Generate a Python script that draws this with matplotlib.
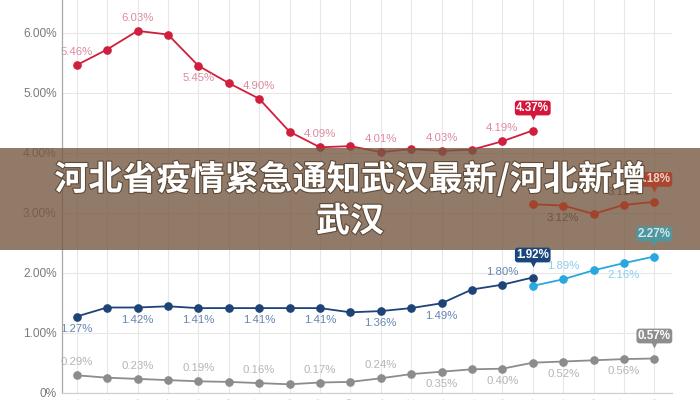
import matplotlib
matplotlib.use("Agg")
import matplotlib.pyplot as plt
from matplotlib.patches import Rectangle
from matplotlib.transforms import offset_copy
import matplotlib.patheffects as pe

# ---------------- data ----------------
x_labels = ["2019-01", "2019-02", "2019-03", "2019-04", "2019-05", "2019-06", "2019-07",
            "2019-08", "2019-09", "2019-10", "2019-11", "2019-12", "2020-01", "2020-02",
            "2020-03", "2020-04", "2020-05", "2020-06", "2020-07", "2020-08"]
red_idx = list(range(0, 16))
red_vals = [5.46, 5.72, 6.03, 5.97, 5.45, 5.16, 4.90, 4.35, 4.09, 4.11, 4.01, 4.06, 4.03, 4.05, 4.19, 4.37]
brown_idx = list(range(15, 20))
brown_vals = [3.14, 3.12, 2.98, 3.13, 3.18]
blue_idx = list(range(0, 16))
blue_vals = [1.27, 1.42, 1.42, 1.44, 1.41, 1.41, 1.41, 1.41, 1.41, 1.34, 1.36, 1.41, 1.49, 1.72, 1.80, 1.92]
lblue_idx = list(range(15, 20))
lblue_vals = [1.78, 1.89, 2.04, 2.16, 2.27]
gray_idx = list(range(0, 20))
gray_vals = [0.29, 0.25, 0.23, 0.21, 0.19, 0.18, 0.16, 0.14, 0.17, 0.18,
             0.24, 0.31, 0.35, 0.39, 0.40, 0.50, 0.52, 0.54, 0.56, 0.57]
y_ticks = [0, 1, 2, 3, 4, 5, 6]
y_tick_labels = ["0%", "1.00%", "2.00%", "3.00%", "4.00%", "5.00%", "6.00%"]
title_line1 = "河北省疫情紧急通知武汉最新/河北新增"
title_line2 = "武汉"

# label specs: (index, 'up'/'down')
red_labels = [(0, "up"), (2, "up"), (4, "down"), (6, "up"), (8, "up"), (10, "up"), (12, "up"), (14, "up")]
blue_labels = [(0, "down"), (2, "down"), (4, "down"), (6, "down"), (8, "down"), (10, "down"), (12, "down"), (14, "up")]
lblue_labels = [(16, "up"), (18, "down")]
brown_labels = [(16, "down"), (18, "up")]
gray_labels = [(0, "up"), (2, "up"), (4, "up"), (6, "up"), (8, "up"), (10, "up"),
               (12, "down"), (14, "down"), (16, "down"), (18, "down")]

plt.rcParams['font.family'] = ['Liberation Sans', 'DejaVu Sans']

W, H = 700, 400
fig = plt.figure(figsize=(7, 4), dpi=100)
fig.patch.set_facecolor("white")
left_px, right_px, bottom_px = 61.5, 672, 392.7
ax = fig.add_axes([left_px / W, (H - bottom_px) / H, (right_px - left_px) / W, bottom_px / H])
ax.set_xlim(-0.5, 19.58)
ax.set_ylim(0, bottom_px / 60.0)

# grid
ax.set_xticks(range(len(x_labels)))
ax.set_xticklabels(x_labels, rotation=90, fontsize=8, color="#9a9a9a", va="top")
ax.set_yticks(y_ticks)
ax.set_yticklabels(y_tick_labels, fontsize=8.6, color="#7a7a7a")
ax.tick_params(axis="both", length=0)
ax.tick_params(axis="x", pad=3.2)
ax.tick_params(axis="y", pad=3.5)
ax.grid(True, color="#e7e7e7", lw=0.8, zorder=0.5)
ax.set_axisbelow(True)
for s in ["top", "right"]:
    ax.spines[s].set_visible(False)
ax.spines["left"].set_color("#a8a8a8")
ax.spines["left"].set_linewidth(0.9)
ax.spines["bottom"].set_color("#d0d0d0")
ax.spines["bottom"].set_linewidth(0.9)


def series(idx, vals, color, z=2):
    ax.plot(idx, vals, color=color, lw=1.3, marker="o", ms=5.2, mec=color, mfc=color, zorder=z, clip_on=False)


def labels(idx, vals, specs, color, z=2):
    lut = dict(zip(idx, vals))
    for i, d in specs:
        v = lut[i]
        off = 9.3 if d == "up" else -8.8
        ax.annotate(f"{v:.2f}%", (i, v), xytext=(0, off), textcoords="offset points",
                    ha="center", va="center", fontsize=8.2, color=color, zorder=z,
                    annotation_clip=False)


def highlight(i, v, fc, tc="white", z=5):
    ax.annotate(f"{v:.2f}%", (i, v), xytext=(0, 16.2), textcoords="offset points",
                ha="center", va="center", fontsize=8.4, fontweight="bold", color=tc, zorder=z,
                bbox=dict(boxstyle="round,pad=0.12,rounding_size=0.25", fc=fc, ec="none"),
                annotation_clip=False)
    tr = offset_copy(ax.transData, fig=fig, x=0, y=9.6, units="points")
    ax.plot([i], [v], marker="v", ms=4.2, color=fc, mec="none", transform=tr, zorder=z, clip_on=False)


# series under the banner
series(red_idx, red_vals, "#d01f3c")
labels(red_idx, red_vals, red_labels, "#dc8aa0")
highlight(red_idx[-1], red_vals[-1], "#d4163a")

series(blue_idx, blue_vals, "#1d4377")
labels(blue_idx, blue_vals, blue_labels, "#6585b0")
highlight(blue_idx[-1], blue_vals[-1], "#1b467c")

series(lblue_idx, lblue_vals, "#28a8df")
labels(lblue_idx, lblue_vals, lblue_labels, "#8ccde9")

series(gray_idx, gray_vals, "#8c8c8c")
labels(gray_idx, gray_vals, gray_labels, "#b5b5b5")
highlight(gray_idx[-1], gray_vals[-1], "#8e8e8e")

# banner overlay
band_top, band_bot = 148, 250
rect = Rectangle((0, (H - band_bot) / H), 1, (band_bot - band_top) / H, transform=fig.transFigure,
                 facecolor="#765942", alpha=0.8, edgecolor="none", zorder=3, clip_on=False)
ax.add_patch(rect)

# series seen through the banner (drawn with their muted tones)
series(brown_idx, brown_vals, "#a4432c", z=4)
labels(brown_idx, brown_vals, brown_labels, "#6e5442", z=4)
highlight(brown_idx[-1], brown_vals[-1], "#a8462f", tc="#ead2c6", z=4)
highlight(lblue_idx[-1], lblue_vals[-1], "#4f96a0", tc="#d2e8ea", z=4)

# title
title_kw = dict(ha="center", va="center", fontsize=24.5, fontweight="bold", color="white",
                family=["Noto Sans CJK SC", "DejaVu Sans"], zorder=10,
                path_effects=[pe.withStroke(linewidth=1.6, foreground="#5e4a38")])
fig.text(0.5, 1 - 179 / H, title_line1, **title_kw)
fig.text(0.5, 1 - 221 / H, title_line2, **title_kw)

fig.savefig("out.png", dpi=100)
